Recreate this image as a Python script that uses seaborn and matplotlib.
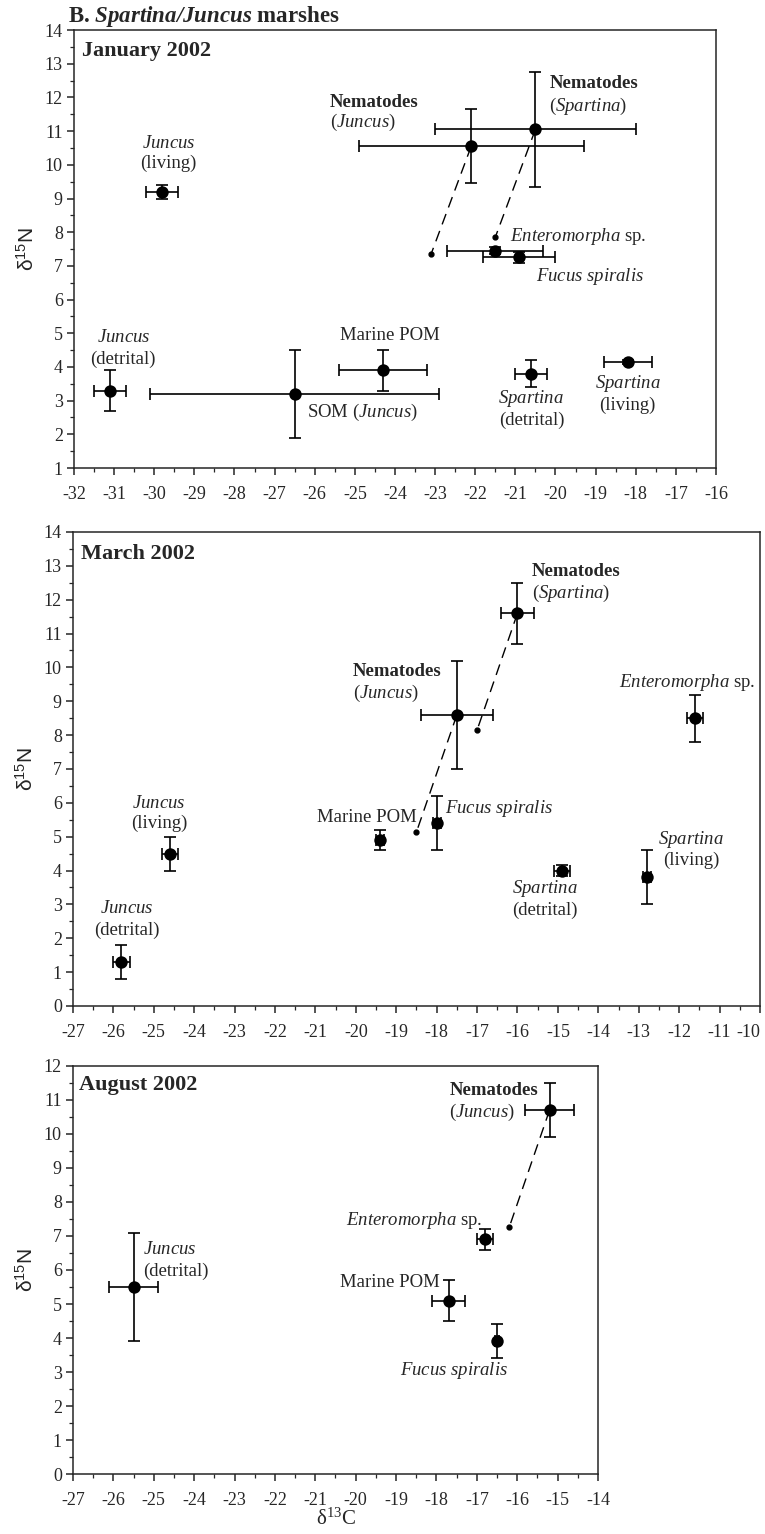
import matplotlib
matplotlib.use("Agg")
import pandas as pd
import matplotlib.pyplot as plt
import seaborn as sns

# ---- data (d13C, d15N, +/- sd) ----
# January 2002
jan_names = ["Juncus (living)", "Nematodes (Juncus)", "Nematodes (Spartina)", "Enteromorpha sp.",
             "Fucus spiralis", "Juncus (detrital)", "SOM (Juncus)", "Marine POM",
             "Spartina (detrital)", "Spartina (living)"]
jan_d13c = [-29.8, -22.1, -20.5, -21.5, -20.9, -31.1, -26.5, -24.3, -20.6, -18.2]
jan_d15n = [9.2, 10.55, 11.05, 7.45, 7.25, 3.3, 3.2, 3.9, 3.8, 4.15]
jan_xerr = [0.4, 2.8, 2.5, 1.2, 0.9, 0.4, 3.6, 1.1, 0.4, 0.6]
jan_yerr = [0.2, 1.1, 1.7, 0.1, 0.15, 0.6, 1.3, 0.6, 0.4, 0.05]
# estimated diet (nematode value minus trophic shift)
jan_diet_of = ["Nematodes (Juncus)", "Nematodes (Spartina)"]
jan_diet_d13c = [-23.1, -21.5]
jan_diet_d15n = [7.35, 7.85]

# March 2002
mar_names = ["Juncus (living)", "Juncus (detrital)", "Marine POM", "Fucus spiralis",
             "Nematodes (Juncus)", "Nematodes (Spartina)", "Enteromorpha sp.",
             "Spartina (detrital)", "Spartina (living)"]
mar_d13c = [-24.6, -25.8, -19.4, -18.0, -17.5, -16.0, -11.6, -14.9, -12.8]
mar_d15n = [4.5, 1.3, 4.9, 5.4, 8.6, 11.6, 8.5, 4.0, 3.8]
mar_xerr = [0.2, 0.2, 0.1, 0.1, 0.9, 0.4, 0.2, 0.2, 0.1]
mar_yerr = [0.5, 0.5, 0.3, 0.8, 1.6, 0.9, 0.7, 0.15, 0.8]
mar_diet_of = ["Nematodes (Juncus)", "Nematodes (Spartina)"]
mar_diet_d13c = [-18.5, -17.0]
mar_diet_d15n = [5.14, 8.15]

# August 2002
aug_names = ["Juncus (detrital)", "Marine POM", "Fucus spiralis", "Enteromorpha sp.",
             "Nematodes (Juncus)"]
aug_d13c = [-25.5, -17.7, -16.5, -16.8, -15.2]
aug_d15n = [5.5, 5.1, 3.9, 6.9, 10.7]
aug_xerr = [0.6, 0.4, 0.05, 0.2, 0.6]
aug_yerr = [1.6, 0.6, 0.5, 0.3, 0.8]
aug_diet_of = ["Nematodes (Juncus)"]
aug_diet_d13c = [-16.2]
aug_diet_d15n = [7.25]

# ---- labels: (text, x, y, ha, bold) ----
IT = r"$\mathit{%s}$"
jan_labels = [
    (IT % "Juncus", -29.65, 10.63, "center", False), ("(living)", -29.65, 10.04, "center", False),
    ("Nematodes", -25.63, 11.85, "left", True), ("(" + IT % "Juncus" + ")", -25.63, 11.25, "left", False),
    ("Nematodes", -20.15, 12.42, "left", True), ("(" + IT % "Spartina" + ")", -20.15, 11.74, "left", False),
    (IT % "Enteromorpha" + " sp.", -21.14, 7.88, "left", False),
    (r"$\mathit{Fucus\ spiralis}$", -20.49, 6.68, "left", False),
    (IT % "Juncus", -30.77, 4.88, "center", False), ("(detrital)", -30.77, 4.24, "center", False),
    ("Marine POM", -24.12, 4.92, "center", False),
    ("SOM (" + IT % "Juncus" + ")", -26.19, 2.64, "left", False),
    (IT % "Spartina", -20.6, 3.05, "center", False), ("(detrital)", -20.6, 2.42, "center", False),
    (IT % "Spartina", -18.2, 3.5, "center", False), ("(living)", -18.2, 2.86, "center", False),
]
mar_labels = [
    ("Nematodes", -15.64, 12.82, "left", True), ("(" + IT % "Spartina" + ")", -15.64, 12.18, "left", False),
    ("Nematodes", -20.07, 9.89, "left", True), ("(" + IT % "Juncus" + ")", -20.07, 9.24, "left", False),
    (IT % "Enteromorpha" + " sp.", -11.8, 9.56, "center", False),
    (IT % "Juncus", -24.87, 5.99, "center", False), ("(living)", -24.87, 5.38, "center", False),
    (IT % "Juncus", -25.67, 2.88, "center", False), ("(detrital)", -25.67, 2.24, "center", False),
    ("Marine POM", -18.5, 5.58, "right", False),
    (r"$\mathit{Fucus\ spiralis}$", -17.8, 5.83, "left", False),
    (IT % "Spartina", -15.32, 3.46, "center", False), ("(detrital)", -15.32, 2.83, "center", False),
    (IT % "Spartina", -11.71, 4.92, "center", False), ("(living)", -11.71, 4.31, "center", False),
]
aug_labels = [
    ("Nematodes", -17.68, 11.27, "left", True), ("(" + IT % "Juncus" + ")", -17.68, 10.64, "left", False),
    (IT % "Enteromorpha" + " sp.", -18.56, 7.45, "center", False),
    (IT % "Juncus", -25.26, 6.6, "left", False), ("(detrital)", -25.26, 5.97, "left", False),
    ("Marine POM", -17.93, 5.62, "right", False),
    (r"$\mathit{Fucus\ spiralis}$", -17.56, 3.05, "center", False),
]

sns.set_style("ticks")
plt.rcParams["font.family"] = ["Liberation Serif", "DejaVu Serif"]
plt.rcParams["mathtext.fontset"] = "custom"
plt.rcParams["mathtext.rm"] = "Liberation Serif"
plt.rcParams["mathtext.it"] = "Liberation Serif:italic"
plt.rcParams["mathtext.bf"] = "Liberation Serif:bold"
plt.rcParams["mathtext.bfit"] = "Liberation Serif:italic:bold"
plt.rcParams["mathtext.sf"] = "Liberation Sans"
plt.rcParams["axes.unicode_minus"] = False

fig = plt.figure(figsize=(7.65, 15.34), dpi=100)
ax1 = fig.add_axes([0.0967, 0.6949, 0.8392, 0.2855])
ax2 = fig.add_axes([0.0954, 0.3442, 0.8980, 0.3090])
ax3 = fig.add_axes([0.0954, 0.0391, 0.6863, 0.2660])

panels = [
    (ax1, "January 2002", jan_names, jan_d13c, jan_d15n, jan_xerr, jan_yerr,
     jan_diet_of, jan_diet_d13c, jan_diet_d15n, jan_labels, (-32, -16), (1, 14)),
    (ax2, "March 2002", mar_names, mar_d13c, mar_d15n, mar_xerr, mar_yerr,
     mar_diet_of, mar_diet_d13c, mar_diet_d15n, mar_labels, (-27, -10), (0, 14)),
    (ax3, "August 2002", aug_names, aug_d13c, aug_d15n, aug_xerr, aug_yerr,
     aug_diet_of, aug_diet_d13c, aug_diet_d15n, aug_labels, (-27, -14), (0, 12)),
]

for ax, month, names, xs, ys, xe, ye, diet_of, dx, dy, labels, xlim, ylim in panels:
    df = pd.DataFrame({"name": names, "d13C": xs, "d15N": ys, "xerr": xe, "yerr": ye})
    ax.errorbar(df["d13C"], df["d15N"], xerr=df["xerr"], yerr=df["yerr"], fmt="none",
                ecolor="black", elinewidth=1.2, capsize=4, capthick=1.2, zorder=2)
    sns.scatterplot(data=df, x="d13C", y="d15N", ax=ax, color="black", s=80,
                    edgecolor="black", linewidth=0, zorder=3, legend=False)

    # dashed line from each nematode group to its estimated diet
    pos = df.set_index("name")
    for who, x0, y0 in zip(diet_of, dx, dy):
        seg = pd.DataFrame({"x": [pos.loc[who, "d13C"], x0], "y": [pos.loc[who, "d15N"], y0]})
        sns.lineplot(data=seg, x="x", y="y", ax=ax, sort=False, estimator=None,
                     color="black", linewidth=1.0, linestyle=(0, (8, 5)), zorder=1)
        ax.plot(x0, y0, "o", color="black", markersize=3.5, zorder=3)

    for txt, tx, ty, ha, bold in labels:
        ax.text(tx, ty, txt, ha=ha, va="center", fontsize=13.5,
                fontweight="bold" if bold else "normal")
    ax.text(0.012, 0.953, month, transform=ax.transAxes, ha="left", va="center",
            fontsize=16, fontweight="bold")

    ax.set_xlim(*xlim)
    ax.set_ylim(*ylim)
    ax.set_xticks(range(xlim[0], xlim[1] + 1))
    ax.set_yticks(range(ylim[0], ylim[1] + 1))
    ax.set_xticks([v + 0.5 for v in range(xlim[0], xlim[1])], minor=True)
    ax.set_yticks([v + 0.5 for v in range(ylim[0], ylim[1])], minor=True)
    ax.tick_params(axis="both", which="major", direction="out", length=5, width=1.1,
                   labelsize=13, pad=3)
    ax.tick_params(axis="both", which="minor", direction="out", length=3, width=0.9)
    ax.tick_params(axis="x", which="major", pad=8)
    for sp in ax.spines.values():
        sp.set_visible(True)
        sp.set_linewidth(1.1)
    ax.set_xlabel("")
    ax.set_ylabel(r"δ$^{\mathsf{15}}$N", fontsize=15, family=["Liberation Sans", "DejaVu Sans"],
                  labelpad=5)

# the last March tick label sits on the figure edge: keep it inside
fig.canvas.draw()
ax2.get_xticklabels()[-1].set_horizontalalignment("right")

ax3.set_xlabel(r"δ$^{13}$C", fontsize=15, labelpad=0)
fig.text(0.089, 0.989, r"B. $\mathbfit{Spartina/Juncus}$ marshes", fontsize=16.5,
         fontweight="bold", ha="left", va="center")

fig.savefig("out.png", dpi=100)
